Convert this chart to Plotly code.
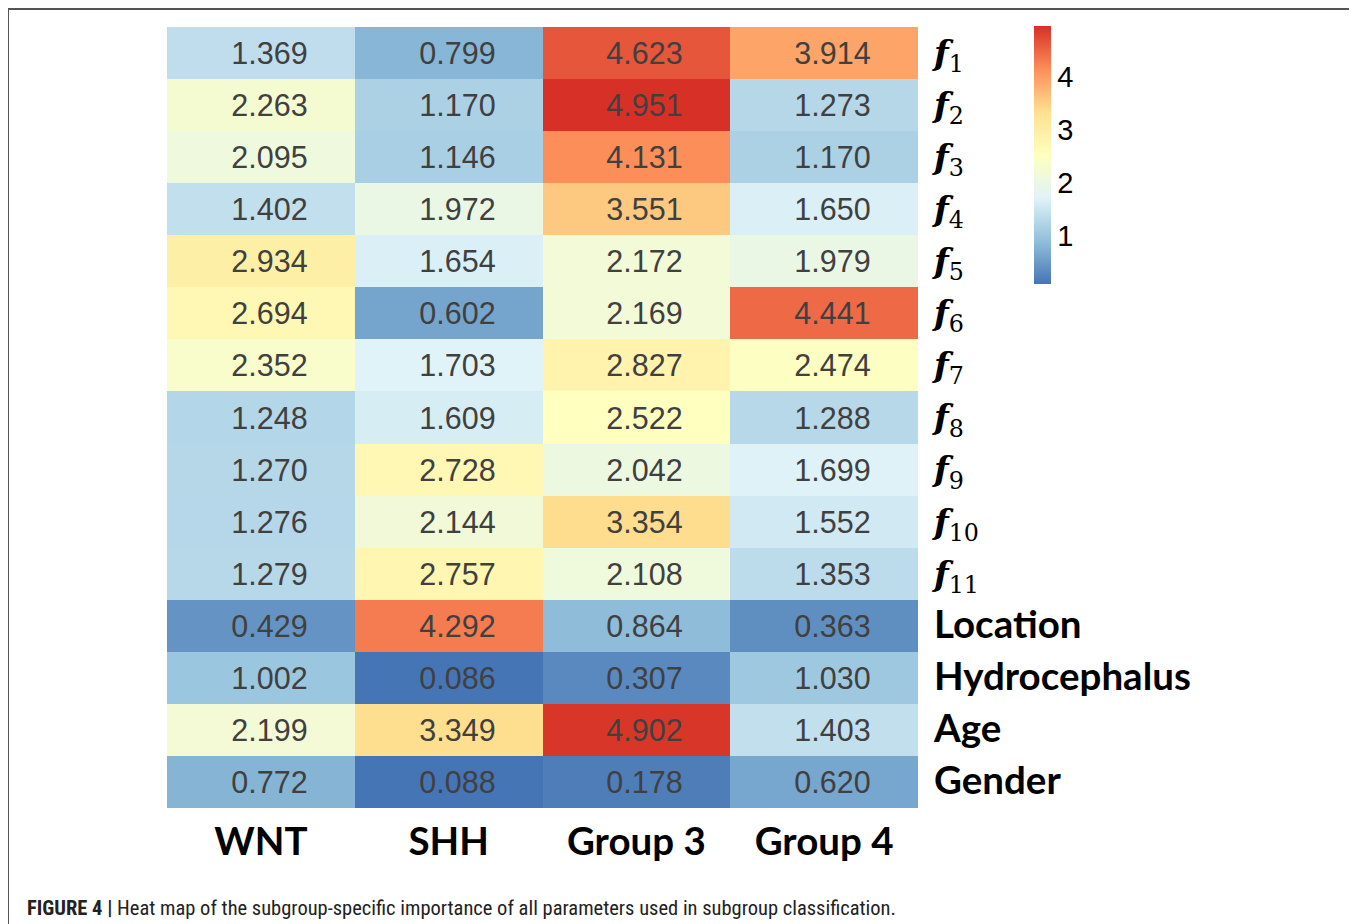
import plotly.graph_objects as go

groups = ["WNT", "SHH", "Group 3", "Group 4"]
row_names = ["f1", "f2", "f3", "f4", "f5", "f6", "f7", "f8", "f9", "f10", "f11",
             "Location", "Hydrocephalus", "Age", "Gender"]
wnt = [1.369, 2.263, 2.095, 1.402, 2.934, 2.694, 2.352, 1.248, 1.270, 1.276, 1.279, 0.429, 1.002, 2.199, 0.772]
shh = [0.799, 1.170, 1.146, 1.972, 1.654, 0.602, 1.703, 1.609, 2.728, 2.144, 2.757, 4.292, 0.086, 3.349, 0.088]
group3 = [4.623, 4.951, 4.131, 3.551, 2.172, 2.169, 2.827, 2.522, 2.042, 3.354, 2.108, 0.864, 0.307, 4.902, 0.178]
group4 = [3.914, 1.273, 1.170, 1.650, 1.979, 4.441, 2.474, 1.288, 1.699, 1.552, 1.353, 0.363, 1.030, 1.403, 0.620]
colorbar_ticks = [1, 2, 3, 4]
caption = "<b>FIGURE 4 |</b> Heat map of the subgroup-specific importance of all parameters used in subgroup classification."

z = [[wnt[i], shh[i], group3[i], group4[i]] for i in range(len(row_names))]

def fmt_label(name):
    if name.startswith("f") and name[1:].isdigit():
        return "<b><i>f</i></b><sub>" + name[1:] + "</sub>"
    return "<span style='font-family:Lato;font-size:38.5px'><b>" + name + "</b></span>"

row_text = [fmt_label(n) for n in row_names]

colorscale = [
    [0.0, "#4575b4"], [1/6, "#91bfdb"], [2/6, "#e0f3f8"], [3/6, "#ffffbf"],
    [4/6, "#fee090"], [5/6, "#fc8d59"], [1.0, "#d73027"],
]

OFF = 8  # page offset of the plot inside the browser
W, H = 1357 - OFF, 924 - OFF
L, R, T, B = 167 - OFF, 918 - OFF, 27 - OFF, 808 - OFF
pw, ph = R - L, B - T

def px(x):
    return (x - OFF - L) / pw

def py(y):
    return (B - (y - OFF)) / ph

fig = go.Figure(go.Heatmap(
    z=z, x=groups, y=row_names,
    colorscale=colorscale, zmin=0.086, zmax=4.951,
    texttemplate="\u00a0\u00a0%{z:.3f}",
    textfont=dict(family="Liberation Sans, Arial", size=30.5, color="#404040"),
    colorbar=dict(
        x=px(1034), xanchor="left", y=py(26), yanchor="top",
        len=258 / ph, lenmode="fraction", thickness=17,
        outlinewidth=0, tickvals=colorbar_ticks, ticks="",
        tickfont=dict(family="Liberation Sans, Arial", size=29, color="black"),
        ypad=0, xpad=0,
    ),
    hoverinfo="skip",
))

fig.update_layout(
    width=W, height=H,
    margin=dict(l=L, r=W - R, t=T, b=H - B),
    paper_bgcolor="white", plot_bgcolor="white",
    xaxis=dict(showgrid=False, zeroline=False, ticks="", showline=False,
               tickfont=dict(family="Lato", size=38.5, color="black"),
               ticktext=["<b>" + g + "</b>" for g in groups], tickvals=groups,
               ticklabelstandoff=7),
    yaxis=dict(showgrid=False, zeroline=False, ticks="", showline=False,
               side="right", autorange="reversed",
               tickvals=row_names, ticktext=row_text,
               tickfont=dict(family="DejaVu Serif", size=34, color="black"),
               ticklabelstandoff=15),
    annotations=[dict(
        text=caption, xref="paper", yref="paper", x=px(25), y=py(908),
        xanchor="left", yanchor="middle", showarrow=False,
        font=dict(family="Roboto Condensed, Liberation Sans Narrow, Liberation Sans", size=20.5, color="#222222"),
    )],
    shapes=[dict(type="rect", xref="paper", yref="paper",
                 x0=px(8), x1=px(1355), y0=py(9), y1=py(960),
                 line=dict(color="#555555", width=2), layer="below")],
)

fig.write_html("out.html")
